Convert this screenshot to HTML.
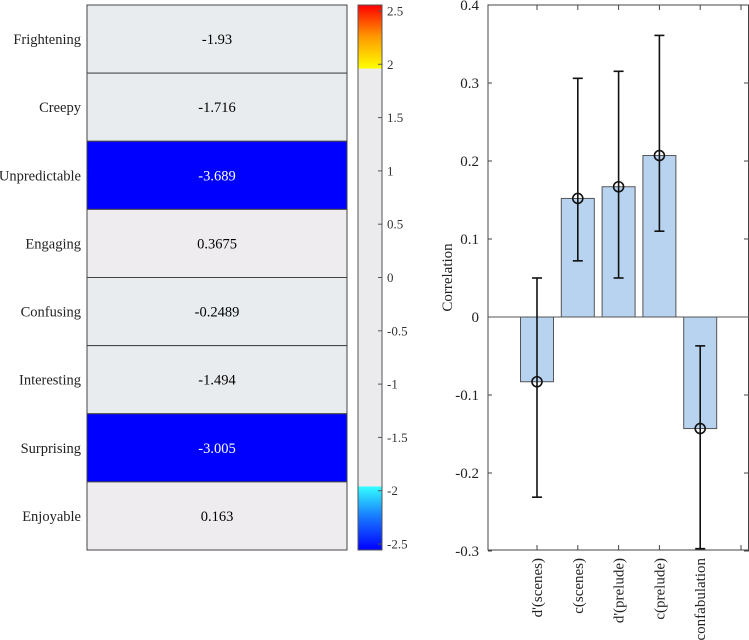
<!DOCTYPE html>
<html><head><meta charset="utf-8"><style>
body{margin:0;background:#fff;}
svg{display:block;font-family:"Liberation Serif",serif;}
</style></head><body>
<svg id="chart" width="749" height="640" viewBox="0 0 749 640" xmlns="http://www.w3.org/2000/svg">
<defs>
<linearGradient id="topGrad" x1="0" y1="1" x2="0" y2="0">
<stop offset="0" stop-color="#ffff00"/><stop offset="0.5" stop-color="#ff9900"/><stop offset="1" stop-color="#ff0000"/>
</linearGradient>
<linearGradient id="botGrad" x1="0" y1="0" x2="0" y2="1">
<stop offset="0" stop-color="#33ffff"/><stop offset="0.45" stop-color="#1a80ff"/><stop offset="1" stop-color="#0000ff"/>
</linearGradient>
</defs>
<g id="heat"></g>
<g id="cbar"></g>
<g id="bars"></g>
</svg>
<script>
const rowLabels=["Frightening","Creepy","Unpredictable","Engaging","Confusing","Interesting","Surprising","Enjoyable"];
const rowValues=[-1.93,-1.716,-3.689,0.3675,-0.2489,-1.494,-3.005,0.163];
const rowText=["-1.93","-1.716","-3.689","0.3675","-0.2489","-1.494","-3.005","0.163"];
const cbTicks=[2.5,2,1.5,1,0.5,0,-0.5,-1,-1.5,-2,-2.5];
const categories=["d'(scenes)","c(scenes)","d'(prelude)","c(prelude)","confabulation"];
const barValues=[-0.083,0.152,0.167,0.207,-0.143];
const errLow=[-0.231,0.072,0.05,0.11,-0.297];
const errHigh=[0.05,0.306,0.315,0.361,-0.037];
const yTicks=[0.4,0.3,0.2,0.1,0,-0.1,-0.2,-0.3];

const NS="http://www.w3.org/2000/svg";
function el(p,tag,attrs,txt){const e=document.createElementNS(NS,tag);for(const k in attrs)e.setAttribute(k,attrs[k]);if(txt!==undefined)e.textContent=txt;p.appendChild(e);return e;}

const heat=document.getElementById('heat');
const hx0=87,hx1=347,hy0=5,hy1=550,rh=(hy1-hy0)/rowLabels.length;
function cellColor(v){if(v<=-1.96)return "#0000ff";if(v>=1.96)return "#ff0000";return v>0?"#eeecef":"#e9ecee";}
rowLabels.forEach((lab,i)=>{
  const y=hy0+i*rh;
  const r=el(heat,'rect',{x:hx0,y:y,width:hx1-hx0,height:rh,fill:cellColor(rowValues[i]),stroke:"#444","stroke-width":1});
  
  
  const t=el(heat,'text',{x:(hx0+hx1)/2,y:y+rh/2+5,"text-anchor":"middle","font-size":14.5,fill:Math.abs(rowValues[i])>=1.96?"#fff":"#000"},rowText[i]);
  
  
  const l=el(heat,'text',{x:81,y:y+rh/2+5,"text-anchor":"end","font-size":14.5,fill:"#222"},lab);
  
  
});

const cb=document.getElementById('cbar');
const cx0=358,cx1=382,cmax=2.556;
const cy=v=>hy0+(cmax-v)/(2*cmax)*(hy1-hy0);
el(cb,'rect',{x:cx0,y:hy0,width:cx1-cx0,height:hy1-hy0,fill:"#ebebee"});
el(cb,'rect',{x:cx0,y:hy0,width:cx1-cx0,height:cy(1.96)-hy0,fill:"url(#topGrad)"});
el(cb,'rect',{x:cx0,y:cy(-1.96),width:cx1-cx0,height:hy1-cy(-1.96),fill:"url(#botGrad)"});
el(cb,'rect',{x:cx0,y:hy0,width:cx1-cx0,height:hy1-hy0,fill:"none",stroke:"#555","stroke-width":1});
cbTicks.forEach(v=>{
  const y=cy(v);
  el(cb,'line',{x1:cx1-4,x2:cx1,y1:y,y2:y,stroke:"#555"});
  const t=el(cb,'text',{x:387,y:y+4.5,"font-size":13,fill:"#333"},String(v));
  
  
});

const bg=document.getElementById('bars');
const ax0=488,ax1=749,ay0=5,ay1=550;
const yS=v=>317-v*780;
const xS=i=>537+i*40.8;
el(bg,'rect',{x:ax0,y:ay0,width:ax1-ax0-0.5,height:ay1-ay0,fill:"none",stroke:"#444","stroke-width":1});
yTicks.forEach(v=>{
  const y=yS(v);
  el(bg,'line',{x1:ax0,x2:ax0+4,y1:y,y2:y,stroke:"#444"});
  el(bg,'line',{x1:ax1-5,x2:ax1,y1:y,y2:y,stroke:"#444"});
  const t=el(bg,'text',{x:479,y:y+5,"text-anchor":"end","font-size":15,fill:"#222"},String(v));
  
  
});
for(let i=0;i<=categories.length;i++){
  el(bg,'line',{x1:xS(i),x2:xS(i),y1:ay1,y2:ay1-5,stroke:"#444"});
  el(bg,'line',{x1:xS(i),x2:xS(i),y1:ay0,y2:ay0+5,stroke:"#444"});
}
const yl=el(bg,'text',{x:0,y:0,"text-anchor":"middle","font-size":15,fill:"#222",transform:"translate(452,"+(ay0+ay1)/2+") rotate(-90)"},"Correlation");


categories.forEach((c,i)=>{
  const x=xS(i),v=barValues[i];
  const b=el(bg,'rect',{x:x-16.5,y:Math.min(yS(v),yS(0)),width:33,height:Math.abs(yS(v)-yS(0)),fill:"#b8d3f0",stroke:"#555","stroke-width":1});
  
  
  const lab=el(bg,'text',{x:0,y:0,"text-anchor":"end","font-size":15,fill:"#222",transform:"translate("+(x+5)+",558) rotate(-90)"},c);
  
  
});
el(bg,'line',{x1:ax0,x2:ax1,y1:yS(0),y2:yS(0),stroke:"#555","stroke-width":1});
categories.forEach((c,i)=>{
  const x=xS(i);
  const g=el(bg,'g',{stroke:"#111","stroke-width":1.6,fill:"none"});
  
  
  el(g,'line',{x1:x,x2:x,y1:yS(errLow[i]),y2:yS(errHigh[i])});
  el(g,'line',{x1:x-5,x2:x+5,y1:yS(errLow[i]),y2:yS(errLow[i])});
  el(g,'line',{x1:x-5,x2:x+5,y1:yS(errHigh[i]),y2:yS(errHigh[i])});
  el(g,'circle',{cx:x,cy:yS(barValues[i]),r:5});
});
</script>
</body></html>
